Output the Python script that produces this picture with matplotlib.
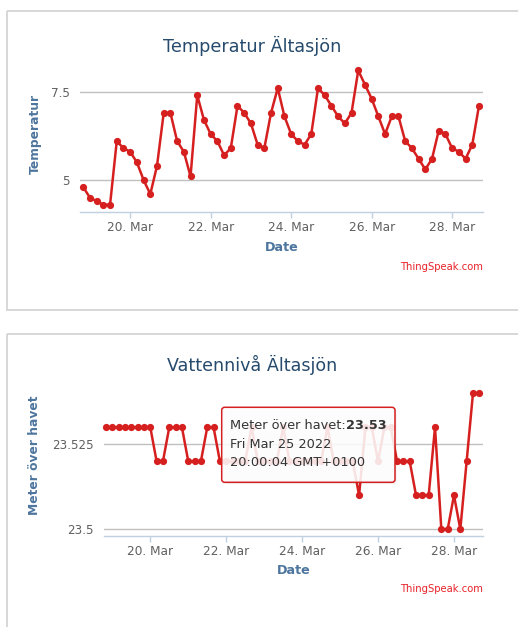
import numpy as np
import pandas as pd
import matplotlib
matplotlib.use("Agg")
import matplotlib.pyplot as plt
import matplotlib.dates as mdates
from matplotlib.patches import FancyBboxPatch, Rectangle

# ---------------- data ----------------
times = pd.date_range("2022-03-18 20:00", periods=60, freq="4h")

temperature = [4.8, 4.5, 4.4, 4.3, 4.3, 6.1, 5.9, 5.8, 5.5, 5.0,
               4.6, 5.4, 6.9, 6.9, 6.1, 5.8, 5.1, 7.4, 6.7, 6.3,
               6.1, 5.7, 5.9, 7.1, 6.9, 6.6, 6.0, 5.9, 6.9, 7.6,
               6.8, 6.3, 6.1, 6.0, 6.3, 7.6, 7.4, 7.1, 6.8, 6.6,
               6.9, 8.1, 7.7, 7.3, 6.8, 6.3, 6.8, 6.8, 6.1, 5.9,
               5.6, 5.3, 5.6, 6.4, 6.3, 5.9, 5.8, 5.6, 6.0, 7.1]

water_level = [23.53, 23.53, 23.53, 23.53, 23.53, 23.53, 23.53, 23.53, 23.52, 23.52,
               23.53, 23.53, 23.53, 23.52, 23.52, 23.52, 23.53, 23.53, 23.52, 23.52,
               23.52, 23.52, 23.52, 23.53, 23.52, 23.52, 23.52, 23.52, 23.53, 23.52,
               23.52, 23.52, 23.52, 23.52, 23.52, 23.53, 23.52, 23.52, 23.52, 23.52,
               23.51, 23.53, 23.53, 23.52, 23.53, 23.53, 23.52, 23.52, 23.52, 23.51,
               23.51, 23.51, 23.53, 23.50, 23.50, 23.51, 23.50, 23.52, 23.54, 23.54]

tick_dates = pd.to_datetime(["2022-03-20", "2022-03-22", "2022-03-24",
                             "2022-03-26", "2022-03-28"])
temp_yticks = [5, 7.5]
temp_yticklabels = ["5", "7.5"]
water_yticks = [23.5, 23.525]
water_yticklabels = ["23.5", "23.525"]

tooltip_index = 42
tooltip_label = "Meter över havet:"
tooltip_lines = ["Fri Mar 25 2022", "20:00:04 GMT+0100"]

# ---------------- style ----------------
W, H = 518, 627
LINE = "#d62020"
TITLE_C = "#274b6d"
AXLABEL_C = "#4d759e"
TICK_C = "#606060"
GRID_C = "#c0c0c0"
AXIS_C = "#c0d0e0"
plt.rcParams["font.family"] = ["DejaVu Sans"]

fig = plt.figure(figsize=(W / 100, H / 100), dpi=100)
fig.patch.set_facecolor("white")


def px_axes(l, t, r, b):
    return fig.add_axes([l / W, 1 - b / H, (r - l) / W, (b - t) / H])


def style(ax, title, ylabel, yticks, yticklabels, ylim, xlim, title_size):
    ax.set_xlim(*xlim)
    ax.set_ylim(*ylim)
    for s in ("top", "right", "left"):
        ax.spines[s].set_visible(False)
    ax.spines["bottom"].set_color(AXIS_C)
    ax.spines["bottom"].set_linewidth(1.0)
    ax.set_yticks(yticks)
    ax.set_yticklabels(yticklabels)
    ax.yaxis.grid(True, color=GRID_C, linewidth=1.0)
    ax.set_axisbelow(True)
    ax.tick_params(axis="y", length=0, pad=7.5, labelsize=8.6, labelcolor=TICK_C)
    ax.set_xticks(tick_dates)
    ax.xaxis.set_major_formatter(mdates.DateFormatter("%d. %b"))
    ax.tick_params(axis="x", length=4, width=1, color=AXIS_C, pad=2.5,
                   labelsize=8.7, labelcolor=TICK_C)
    ax.set_title(title, pad=0, fontsize=title_size, color=TITLE_C, va="center")
    ax.set_ylabel(ylabel, fontsize=8.8, fontweight="bold", color=AXLABEL_C)
    ax.yaxis.label.set_va("center")
    ax.set_xlabel("Date", fontsize=9.2, fontweight="bold", color=AXLABEL_C)
    ax.xaxis.label.set_va("center")
    ax.text(1.0, 0, "ThingSpeak.com", transform=ax.transAxes, ha="right",
            va="center", fontsize=7.2, color="#e8232a")


day = pd.Timedelta(days=1)

# ---- temperature panel ----
tl, tt, tr, tb = 80, 56, 483, 212
ax1 = px_axes(tl, tt, tr, tb)
style(ax1, "Temperatur Ältasjön", "Temperatur",
      temp_yticks, temp_yticklabels, (4.0943, 8.5097),
      (times[0] - 0.08 * day, times[-1] + 0.10 * day), 12.7)
ax1.title.set_position(((252 - tl) / (tr - tl), (tb - 39) / (tb - tt)))
ax1.yaxis.set_label_coords((35 - tl) / (tr - tl), 0.5)
ax1.xaxis.set_label_coords(0.5, (tb - 247) / (tb - tt))
ax1.texts[-1].set_position((1.0, (tb - 266.5) / (tb - tt)))
ax1.plot(times, temperature, color=LINE, linewidth=1.8, marker="o",
         markersize=5.2, markeredgewidth=0, zorder=3, clip_on=False)

# ---- water level panel ----
wl, wt, wr, wb = 104, 375, 483, 536
ax2 = px_axes(wl, wt, wr, wb)
style(ax2, "Vattennivå Ältasjön", "Meter över havet",
      water_yticks, water_yticklabels, (23.49803, 23.54538),
      (times[0] - 0.0527 * day, times[-1] + 0.0975 * day), 12.6)
ax2.title.set_position(((252 - wl) / (wr - wl), (wb - 362.5) / (wb - wt)))
ax2.yaxis.set_label_coords((35 - wl) / (wr - wl), 0.5)
ax2.xaxis.set_label_coords(0.5, (wb - 570) / (wb - wt))
ax2.texts[-1].set_position((1.0, (wb - 589) / (wb - wt)))
ax2.plot(times, water_level, color=LINE, linewidth=1.8, marker="o",
         markersize=5.2, markeredgewidth=0, zorder=3, clip_on=False)

# ---- overlay in pixel coordinates: panel frames + tooltip ----
ov = fig.add_axes([0, 0, 1, 1], zorder=10)
ov.set_xlim(0, W)
ov.set_ylim(H, 0)
ov.axis("off")
ov.patch.set_alpha(0)

ov.add_patch(Rectangle((6.5, 10.5), 530, 299.5, fill=False,
                       edgecolor="#d4d4d4", linewidth=1.3))
ov.add_patch(Rectangle((7, 334), 530, 320, fill=False,
                       edgecolor="#d4d4d4", linewidth=1.3))

bx0, by0, bx1, by1 = 221.7, 407.3, 395, 482.3
ov.add_patch(FancyBboxPatch((bx0 + 1.5, by0 + 1.5), bx1 - bx0, by1 - by0,
                            boxstyle="round,pad=0,rounding_size=3",
                            facecolor="#000000", alpha=0.08, edgecolor="none"))
ov.add_patch(FancyBboxPatch((bx0, by0), bx1 - bx0, by1 - by0,
                            boxstyle="round,pad=0,rounding_size=3",
                            facecolor="white", alpha=0.87, edgecolor="none"))
ov.add_patch(FancyBboxPatch((bx0, by0), bx1 - bx0, by1 - by0,
                            boxstyle="round,pad=0,rounding_size=3",
                            facecolor="none", edgecolor=LINE, linewidth=1.1))

t1 = ov.text(230, 425.7, tooltip_label, fontsize=9.3, color="#333333",
             va="center", ha="left")
ov.text(230, 444, tooltip_lines[0], fontsize=9.3, color="#333333",
        va="center", ha="left")
ov.text(230, 462.3, tooltip_lines[1], fontsize=9.3, color="#333333",
        va="center", ha="left")
fig.canvas.draw()
bb = t1.get_window_extent(renderer=fig.canvas.get_renderer())
xend = bb.x1 * 100 / fig.dpi
ov.text(xend, 425.7, f"{water_level[tooltip_index]:.2f}", fontsize=9.3,
        color="#333333", fontweight="bold", va="center", ha="left")

fig.savefig("out.png", dpi=100, facecolor="white")
